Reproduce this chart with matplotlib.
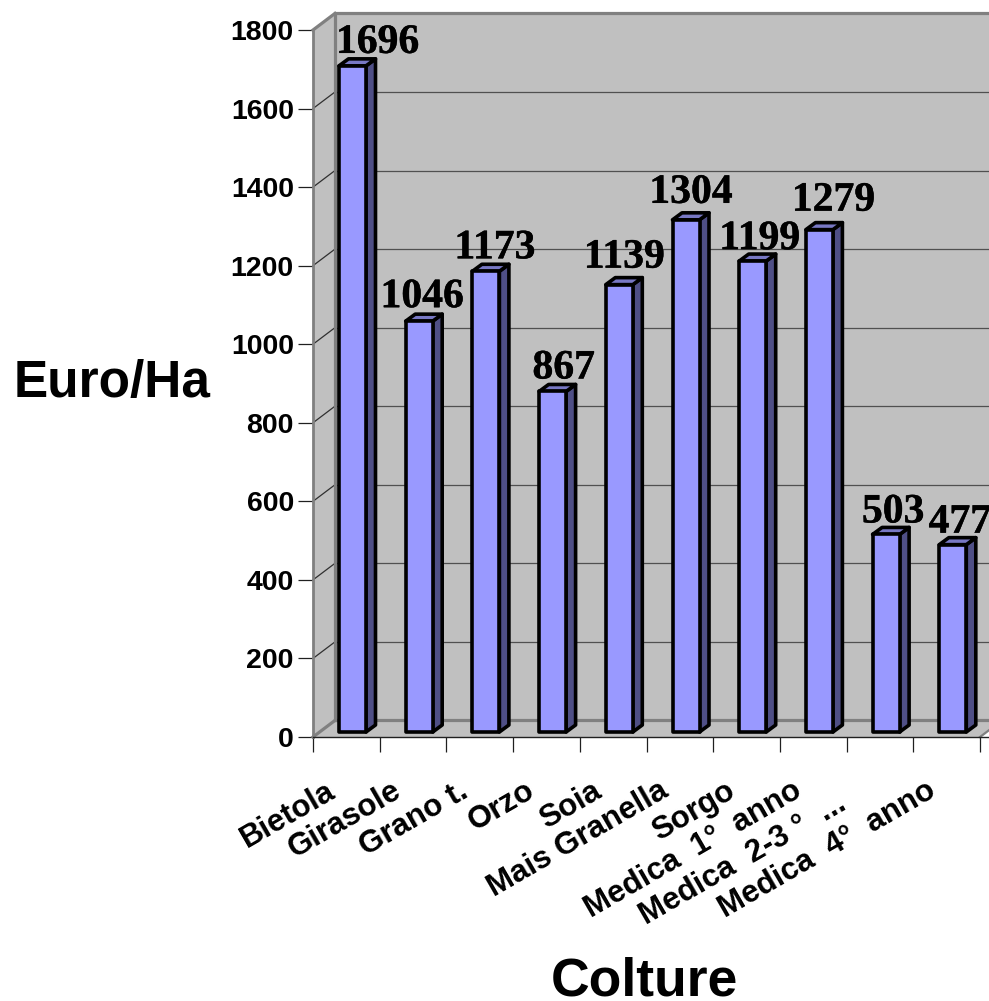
import matplotlib
matplotlib.use('Agg')
import matplotlib.pyplot as plt
from matplotlib.patches import Polygon
from matplotlib.transforms import ScaledTranslation
import matplotlib.patheffects as pe

categories = ['Bietola', 'Girasole', 'Grano t.', 'Orzo', 'Soia', 'Mais Granella', 'Sorgo',
              'Medica  1°  anno', 'Medica  2-3 °  ...   ', 'Medica  4°  anno']
values = [1696, 1046, 1173, 867, 1139, 1304, 1199, 1279, 503, 477]
y_ticks = [0, 200, 400, 600, 800, 1000, 1200, 1400, 1600, 1800]
# manual nudges of the value labels, in pixels (dx from bar centre, dy above bar top)
label_dx = [25, 3, 9, 11, 5, 5, 7, 14, 7, 7]
label_dy = [23, 24, 23, 23, 27, 27, 22, 29, 22, 22]

W, H = 989, 1001
fig = plt.figure(figsize=(W / 100, H / 100), dpi=100, facecolor='white')
L, R, T, B = 313, 989, 30, 737
ax = fig.add_axes([L / W, 1 - B / H, (R - L) / W, (B - T) / H])
cat_px = 66.7
val_px = (B - T) / 1800
ax.set_xlim(0, (R - L) / cat_px)
ax.set_ylim(0, 1800)
xmax = ax.get_xlim()[1]
ax.patch.set_visible(False)

# 3-D depth in data units
wx, wy = 22 / cat_px, 16.6 / val_px     # wall depth
bx, by = 9.5 / cat_px, 7 / val_px       # bar depth
bar_l, bar_w = 26 / cat_px, 27 / cat_px  # bar inset and width
bar_base = 5 / val_px
WALL = '#C0C0C0'
EDGE = '#808080'

# walls and floor
ax.add_patch(Polygon([(wx, wy), (xmax, wy), (xmax, 1800 + wy), (wx, 1800 + wy)],
                     fc=WALL, ec='none', clip_on=False, zorder=1))
ax.add_patch(Polygon([(0, 0), (wx, wy), (wx, 1800 + wy), (0, 1800)],
                     fc=WALL, ec='none', clip_on=False, zorder=1))
ax.add_patch(Polygon([(0, 0), (10, 0), (xmax, (xmax - 10) * wy / wx), (xmax, wy), (wx, wy)],
                     fc=WALL, ec='none', clip_on=False, zorder=1))
# grid on wall
for v in y_ticks[1:]:
    ax.plot([wx, xmax], [v + wy, v + wy], color='#505050', lw=0.9, clip_on=False, zorder=2)
    ax.plot([0, wx], [v, v + wy], color='#303030', lw=0.9, clip_on=False, zorder=2)
# wall edges
ax.plot([xmax, wx, wx], [1800 + wy, 1800 + wy, wy], color=EDGE, lw=2.3, clip_on=False, zorder=3,
        solid_joinstyle='miter')
ax.plot([wx, xmax], [wy, wy], color=EDGE, lw=2.3, clip_on=False, zorder=3)
ax.plot([0, wx], [1800, 1800 + wy], color=EDGE, lw=2.3, clip_on=False, zorder=3)
ax.plot([0, wx], [0, wy], color=EDGE, lw=2.3, clip_on=False, zorder=3)
ax.plot([0, 0], [0, 1800], color=EDGE, lw=2.0, clip_on=False, zorder=3)
ax.plot([10, xmax], [0, (xmax - 10) * wy / wx], color=EDGE, lw=1.6, clip_on=False, zorder=3)

# bars
for i, (v, dx, dy) in enumerate(zip(values, label_dx, label_dy)):
    x0 = i + bar_l
    x1 = x0 + bar_w
    y0 = bar_base
    y1 = bar_base + v
    style = dict(ec='black', lw=2.6, joinstyle='round', clip_on=False, zorder=4)
    ax.add_patch(Polygon([(x1, y0), (x1 + bx, y0 + by), (x1 + bx, y1 + by), (x1, y1)],
                         fc='#4F4F86', **style))
    ax.add_patch(Polygon([(x0, y1), (x1, y1), (x1 + bx, y1 + by), (x0 + bx, y1 + by)],
                         fc='#7878C4', **style))
    ax.add_patch(Polygon([(x0, y0), (x1, y0), (x1, y1), (x0, y1)],
                         fc='#9999FF', **style))
    t = ax.annotate(str(v), xy=((x0 + x1) / 2, y1), xytext=(dx * 0.72, dy * 0.72),
                    textcoords='offset points', ha='center', va='center',
                    family='Liberation Serif', weight='bold', fontsize=30,
                    color='black', annotation_clip=False, clip_on=False, zorder=6)
    t.set_path_effects([pe.withStroke(linewidth=0.3, foreground='black')])

# axes furniture
for s in ['top', 'right', 'left']:
    ax.spines[s].set_visible(False)
ax.spines['bottom'].set_color('#202020')
ax.spines['bottom'].set_linewidth(1.0)
ax.spines['bottom'].set_zorder(5)
ax.set_yticks(y_ticks)
ax.set_yticklabels([str(v) for v in y_ticks], family='Liberation Sans', weight='bold', fontsize=20.5)
ax.tick_params(axis='y', length=10.8, width=0.9, color='#202020', pad=3)
ax.set_xticks(range(len(categories) + 1))
ax.set_xticklabels([''] * (len(categories) + 1))
ax.tick_params(axis='x', length=10.8, width=0.9, color='#202020')
ax.set_xticks([i + 0.5 for i in range(len(categories))], minor=True)
ax.set_xticklabels(categories, minor=True, family='Liberation Sans', weight='bold', fontsize=22.5,
                   rotation=30, ha='right', va='top', rotation_mode='anchor')
ax.tick_params(axis='x', which='minor', length=0, pad=28)
shift = ScaledTranslation(-21 / 100, 0, fig.dpi_scale_trans)
for lab in ax.get_xticklabels(minor=True):
    lab.set_transform(lab.get_transform() + shift)

fig.text(112 / W, 1 - 384 / H, 'Euro/Ha', family='Liberation Sans', weight='bold', fontsize=37,
         ha='center', va='center')
fig.text(644 / W, 1 - 996 / H, 'Colture', family='Liberation Sans', weight='bold', fontsize=38.5,
         ha='center', va='baseline')

fig.savefig('out.png', dpi=100, facecolor='white')
